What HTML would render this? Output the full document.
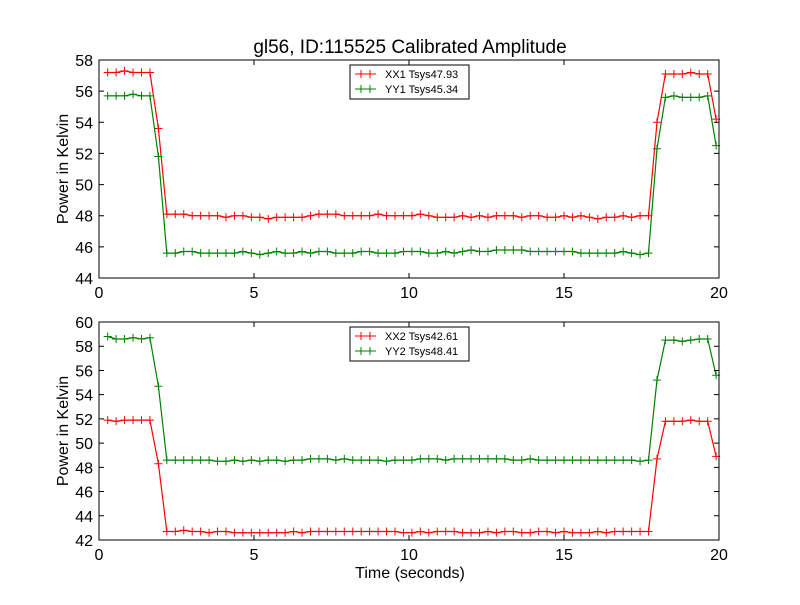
<!DOCTYPE html>
<html><head><meta charset="utf-8"><style>
body{margin:0;background:#fff;}
svg text{font-family:"Liberation Sans","DejaVu Sans",sans-serif;}
</style></head><body>
<svg id="chart" width="800" height="600" xmlns="http://www.w3.org/2000/svg">
<rect width="800" height="600" fill="#fff"/>
<text x="410" y="53" font-size="19" text-anchor="middle">gl56, ID:115525 Calibrated Amplitude</text>
<g id="p1"></g>
<g id="p2"></g>
</svg>
<script>
const xTicks=[0,5,10,15,20];
const t0=0.28, dt=0.2726;
const topYTicks=[44,46,48,50,52,54,56,58];
const botYTicks=[42,44,46,48,50,52,54,56,58,60];
const xx1=[57.2,57.2,57.3,57.2,57.2,57.2,53.6,
48.1,48.1,48.1,48.0,48.0,48.0,48.0,47.9,48.0,48.0,
47.9,47.9,47.8,47.9,47.9,47.9,47.9,48.0,48.1,48.1,
48.1,48.0,48.0,48.0,48.0,48.1,48.0,48.0,48.0,48.0,
48.1,48.0,47.9,47.9,47.9,48.0,47.9,48.0,47.9,48.0,
48.0,48.0,47.9,48.0,48.0,47.9,47.9,48.0,47.9,48.0,
47.9,47.8,47.9,47.9,48.0,47.9,48.0,48.0,
54.0,57.1,57.1,57.1,57.2,57.1,57.1,54.2];
const yy1=[55.7,55.7,55.7,55.8,55.7,55.7,51.8,
45.6,45.6,45.7,45.7,45.6,45.6,45.6,45.6,45.6,45.7,
45.6,45.5,45.6,45.7,45.6,45.6,45.7,45.6,45.7,45.7,
45.6,45.6,45.6,45.7,45.7,45.6,45.6,45.6,45.7,45.7,
45.7,45.6,45.6,45.7,45.6,45.7,45.8,45.7,45.7,45.8,
45.8,45.8,45.8,45.7,45.7,45.7,45.7,45.7,45.7,45.6,
45.6,45.6,45.6,45.6,45.7,45.6,45.5,45.6,
52.3,55.6,55.7,55.6,55.6,55.6,55.7,52.5];
const xx2=[51.9,51.8,51.9,51.9,51.9,51.9,48.3,
42.7,42.7,42.8,42.7,42.7,42.6,42.7,42.7,42.6,42.6,
42.6,42.6,42.6,42.6,42.6,42.7,42.6,42.7,42.7,42.7,
42.7,42.7,42.7,42.7,42.7,42.7,42.7,42.7,42.6,42.6,
42.7,42.6,42.7,42.7,42.7,42.6,42.6,42.6,42.7,42.6,
42.7,42.7,42.6,42.6,42.7,42.7,42.6,42.7,42.6,42.6,
42.6,42.7,42.6,42.7,42.7,42.7,42.7,42.7,
48.7,51.8,51.8,51.8,51.9,51.8,51.8,48.9];
const yy2=[58.8,58.6,58.6,58.7,58.6,58.7,54.7,
48.6,48.6,48.6,48.6,48.6,48.6,48.5,48.5,48.6,48.5,
48.6,48.5,48.6,48.6,48.5,48.6,48.6,48.7,48.7,48.7,
48.6,48.7,48.6,48.6,48.6,48.6,48.5,48.6,48.6,48.6,
48.7,48.7,48.7,48.6,48.7,48.7,48.7,48.7,48.7,48.7,
48.7,48.6,48.6,48.7,48.6,48.6,48.6,48.6,48.6,48.6,
48.6,48.6,48.6,48.6,48.6,48.6,48.5,48.6,
55.2,58.5,58.5,58.4,58.5,58.6,58.6,55.6];
const topLegend=["XX1 Tsys47.93","YY1 Tsys45.34"];
const botLegend=["XX2 Tsys42.61","YY2 Tsys48.41"];
const NS="http://www.w3.org/2000/svg";
function mk(p,tag,a){const e=document.createElementNS(NS,tag);for(const k in a)e.setAttribute(k,a[k]);p.appendChild(e);return e;}
function panel(g,top,ymin,ymax,yTicks,series,labels,legY,xlabel){
  const L=99,R=719,B=top+218;
  const sx=v=>L+(v-0)/(20-0)*(R-L);
  const sy=v=>B-(v-ymin)/(ymax-ymin)*(B-top);
  const colors=["#ff0000","#008000"];
  series.forEach((s,si)=>{
    const pts=s.map((v,i)=>sx(t0+dt*i).toFixed(1)+","+sy(v).toFixed(1)).join(" ");
    const pl=mk(g,"polyline",{points:pts,fill:"none",stroke:colors[si],"stroke-width":1.2});
    
    
    s.forEach((v,i)=>{const x=sx(t0+dt*i),y=sy(v);
      const m=mk(g,"path",{d:`M${x-4},${y}H${x+4}M${x},${y-4}V${y+4}`,stroke:colors[si],"stroke-width":1});
      
      });
  });
  const fr=mk(g,"rect",{x:L,y:top,width:R-L,height:B-top,fill:"none",stroke:"#000","stroke-width":1});
  
  
  xTicks.forEach(v=>{const x=sx(v);
    mk(g,"path",{d:`M${x},${B}v-5M${x},${top}v5`,stroke:"#000"});
    const t=mk(g,"text",{x:x,y:B+20,"font-size":16,"text-anchor":"middle"});t.textContent=v;
    
    });
  yTicks.forEach(v=>{const y=sy(v);
    mk(g,"path",{d:`M${L},${y}h5M${R},${y}h-5`,stroke:"#000"});
    const t=mk(g,"text",{x:L-6,y:y+6,"font-size":16,"text-anchor":"end"});t.textContent=v;
    
    });
  const yl=mk(g,"text",{x:0,y:0,"font-size":16,"text-anchor":"middle",transform:`translate(68,${(top+B)/2}) rotate(-90)`});
  yl.textContent="Power in Kelvin";
  
  
  if(xlabel){const xl=mk(g,"text",{x:410,y:578,"font-size":16,"text-anchor":"middle"});xl.textContent=xlabel;
    
    }
  const lg=mk(g,"g",{});
  
  
  mk(lg,"rect",{x:350,y:legY,width:119,height:34,fill:"#fff",stroke:"#000"});
  labels.forEach((lab,i)=>{const y=legY+9+i*15;
    mk(lg,"path",{d:`M355,${y}H376M361,${y-4}v8M370,${y-4}v8`,stroke:colors[i],"stroke-width":1});
    const t=mk(lg,"text",{x:385,y:y+4,"font-size":11});t.textContent=lab;
    
    });
}
panel(document.getElementById("p1"),60,44,58,topYTicks,[xx1,yy1],topLegend,65,null);
panel(document.getElementById("p2"),322,42,60,botYTicks,[xx2,yy2],botLegend,327,"Time (seconds)");
</script>
</body></html>
